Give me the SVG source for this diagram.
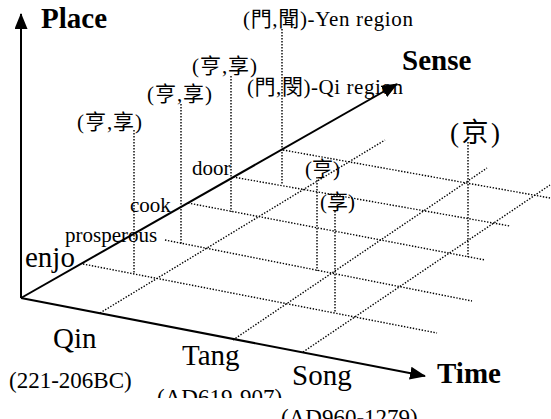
<svg xmlns="http://www.w3.org/2000/svg" width="551" height="419" viewBox="0 0 551 419">
<style>
.axis{stroke:#000;stroke-width:2;fill:none}
.dot{stroke:#000;stroke-width:1.4;stroke-dasharray:1.4 1.6;fill:none}
.t{font-family:"Liberation Serif","Times New Roman",serif;fill:#000}
.b{font-weight:bold;font-size:29px}
.big{font-size:29px}
.date{font-size:23px}
.sen{font-size:21px}
.cj{font-family:"Liberation Serif","Noto Sans CJK TC","Noto Sans CJK SC",serif;font-size:21px;fill:#000}
</style>
<defs>
<marker id="ah" markerUnits="userSpaceOnUse" markerWidth="16" markerHeight="13" viewBox="0 0 16 13" refX="15" refY="6.5" orient="auto">
<path d="M0,0 L16,6.5 L0,13 z" fill="#000"/>
</marker>
<clipPath id="clipTang"><rect x="0" y="0" width="551" height="398"/></clipPath>
</defs>
<g id="connectors">
<line class="axis" x1="21" y1="298" x2="21" y2="14" marker-end="url(#ah)"/>
<line class="axis" x1="21" y1="298" x2="397" y2="84" marker-end="url(#ah)"/>
<line class="axis" x1="21" y1="298" x2="425" y2="376" marker-end="url(#ah)"/>
<line class="dot" x1="83" y1="264" x2="437" y2="333"/>
<line class="dot" x1="165" y1="240" x2="472" y2="301"/>
<line class="dot" x1="188" y1="203" x2="485" y2="260"/>
<line class="dot" x1="233" y1="177" x2="510" y2="226"/>
<line class="dot" x1="283" y1="150" x2="550" y2="198"/>
<line class="dot" x1="100" y1="313" x2="385" y2="140"/>
<line class="dot" x1="233" y1="340" x2="487" y2="168"/>
<line class="dot" x1="303" y1="352" x2="550" y2="185"/>
<line class="dot" x1="134" y1="130" x2="134" y2="274"/>
<line class="dot" x1="181" y1="104" x2="181" y2="244"/>
<line class="dot" x1="231" y1="76" x2="231" y2="212"/>
<line class="dot" x1="282" y1="29" x2="282" y2="185"/>
<line class="dot" x1="317" y1="177" x2="317" y2="271"/>
<line class="dot" x1="335" y1="211" x2="335" y2="312"/>
<line class="dot" x1="468" y1="142" x2="468" y2="257"/>
</g>
<g id="axis-labels">
<text class="t b" x="41" y="28">Place</text>
<text class="t b" x="402" y="70">Sense</text>
<text class="t b" x="437" y="383">Time</text>
</g>
<g id="time-labels">
<text class="t big" x="53" y="348">Qin</text>
<text class="t date" x="9" y="388">(221-206BC)</text>
<text class="t big" x="182" y="365">Tang</text>
<text class="t date" x="157" y="405" clip-path="url(#clipTang)">(AD619-907)</text>
<text class="t big" x="292" y="385">Song</text>
<text class="t date" x="281" y="425">(AD960-1279)</text>
</g>
<g id="sense-labels">
<text class="t big" x="25" y="267">enjo</text>
<text class="t sen" x="65" y="242">prosperous</text>
<text class="t sen" x="130" y="212">cook</text>
<text class="t sen" x="192" y="175">door</text>
</g>
<g id="place-labels">
<text class="cj" x="77" y="129" textLength="65" lengthAdjust="spacing">(亨,享)</text>
<text class="cj" x="147" y="101" textLength="65" lengthAdjust="spacing">(亨,享)</text>
<text class="cj" x="192" y="73" textLength="65" lengthAdjust="spacing">(亨,享)</text>
<text class="cj" x="243" y="26" textLength="170" lengthAdjust="spacing">(門,聞)-Yen region</text>
<text class="cj" x="247" y="94" textLength="156" lengthAdjust="spacing">(門,閔)-Qi region</text>
<text class="cj" x="305" y="176">(亨)</text>
<text class="cj" x="320" y="209">(享)</text>
<text class="cj" x="450" y="142" style="font-size:27px" textLength="50" lengthAdjust="spacing">(京)</text>
</g>
</svg>
